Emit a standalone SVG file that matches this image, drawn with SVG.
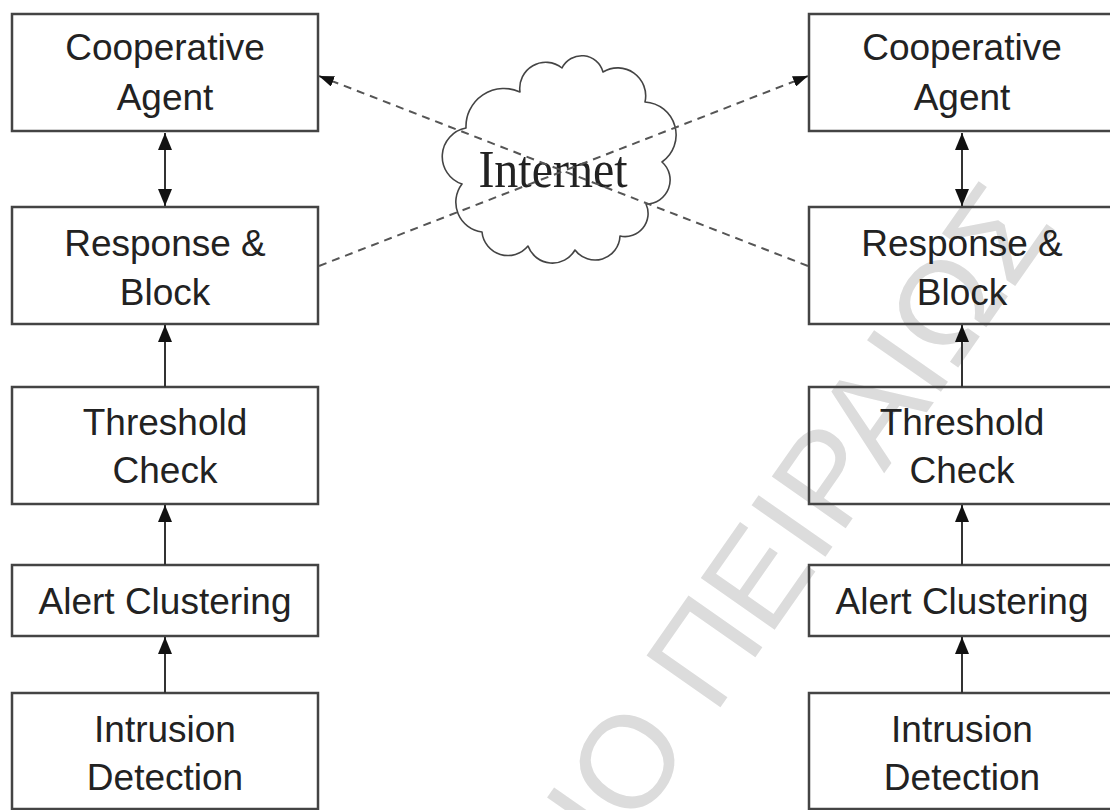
<svg xmlns="http://www.w3.org/2000/svg" width="1110" height="810" viewBox="0 0 1110 810">
  <defs>
    <style>
      .box { fill: none; stroke: #444; stroke-width: 2.5; }
      .lbl { font-family: "Liberation Sans", Arial, sans-serif; font-size: 37px; fill: #222; text-anchor: middle; }
      .cloud { fill: #fff; stroke: #444; stroke-width: 1.6; stroke-linejoin: round; }
      .net { font-family: "Liberation Serif", "Times New Roman", serif; font-size: 48px; fill: #222; text-anchor: middle; }
      .flow { stroke: #333; stroke-width: 2; fill: none; marker-end: url(#head); }
      .both { marker-start: url(#head); }
      .link { stroke: #555; stroke-width: 2; stroke-dasharray: 8 6; fill: none; marker-end: url(#dhead); }
      .mark { font-family: "Liberation Sans", Arial, sans-serif; font-size: 131px; fill: #dcdcdc; }
    </style>
    <marker id="head" viewBox="0 0 17 14" refX="17" refY="7" markerWidth="17" markerHeight="14"
            markerUnits="userSpaceOnUse" orient="auto-start-reverse">
      <path d="M0,0 L17,7 L0,14 Z" fill="#111"/>
    </marker>
    <marker id="dhead" viewBox="0 0 15 11" refX="15" refY="5.5" markerWidth="15" markerHeight="11"
            markerUnits="userSpaceOnUse" orient="auto">
      <path d="M0,0 L15,5.5 L0,11 Z" fill="#111"/>
    </marker>
  </defs>

  <rect width="1110" height="810" fill="#fff"/>

  <!-- faint diagonal watermark -->
  <text class="mark" transform="translate(614,859) rotate(-55)">ΙΟ ΠΕΙΡΑΙΩΣ</text>

  <!-- left stack -->
  <g id="coop-left">
    <rect class="box" x="12" y="14" width="306" height="117"/>
    <text class="lbl" x="165" y="60">Cooperative</text>
    <text class="lbl" x="165" y="110">Agent</text>
  </g>
  <g id="response-left">
    <rect class="box" x="12" y="207" width="306" height="117"/>
    <text class="lbl" x="165" y="256">Response &amp;</text>
    <text class="lbl" x="165" y="305">Block</text>
  </g>
  <g id="threshold-left">
    <rect class="box" x="12" y="387" width="306" height="117"/>
    <text class="lbl" x="165" y="435">Threshold</text>
    <text class="lbl" x="165" y="483">Check</text>
  </g>
  <g id="cluster-left">
    <rect class="box" x="12" y="565" width="306" height="71"/>
    <text class="lbl" x="165" y="614">Alert Clustering</text>
  </g>
  <g id="detect-left">
    <rect class="box" x="12" y="693" width="306" height="116"/>
    <text class="lbl" x="165" y="742">Intrusion</text>
    <text class="lbl" x="165" y="790">Detection</text>
  </g>

  <!-- right stack -->
  <g id="coop-right">
    <rect class="box" x="809" y="14" width="306" height="117"/>
    <text class="lbl" x="962" y="60">Cooperative</text>
    <text class="lbl" x="962" y="110">Agent</text>
  </g>
  <g id="response-right">
    <rect class="box" x="809" y="207" width="306" height="117"/>
    <text class="lbl" x="962" y="256">Response &amp;</text>
    <text class="lbl" x="962" y="305">Block</text>
  </g>
  <g id="threshold-right">
    <rect class="box" x="809" y="387" width="306" height="117"/>
    <text class="lbl" x="962" y="435">Threshold</text>
    <text class="lbl" x="962" y="483">Check</text>
  </g>
  <g id="cluster-right">
    <rect class="box" x="809" y="565" width="306" height="71"/>
    <text class="lbl" x="962" y="614">Alert Clustering</text>
  </g>
  <g id="detect-right">
    <rect class="box" x="809" y="693" width="306" height="116"/>
    <text class="lbl" x="962" y="742">Intrusion</text>
    <text class="lbl" x="962" y="790">Detection</text>
  </g>

  <!-- internet cloud -->
  <g id="internet">
    <path class="cloud" d="M466,128
      A38,38 0 0 1 520,92
      A26,26 0 0 1 562,68
      A22,22 0 0 1 603,72
      A28,28 0 0 1 645,102
      A33,33 0 0 1 662,162
      A24,24 0 0 1 646,204
      A23,23 0 0 1 620,236
      A25,25 0 0 1 575,250
      A26,26 0 0 1 528,246
      A26,26 0 0 1 482,232
      A30,30 0 0 1 462,184
      A29,29 0 0 1 466,128 Z"/>
    <text class="net" transform="translate(553,187) scale(1,1.12)">Internet</text>
  </g>

  <!-- connectors -->
  <g id="connectors">
    <line class="flow both" x1="165" y1="133" x2="165" y2="206"/>
    <line class="flow" x1="165" y1="387" x2="165" y2="325"/>
    <line class="flow" x1="165" y1="565" x2="165" y2="505"/>
    <line class="flow" x1="165" y1="693" x2="165" y2="637"/>

    <line class="flow both" x1="962" y1="133" x2="962" y2="206"/>
    <line class="flow" x1="962" y1="387" x2="962" y2="325"/>
    <line class="flow" x1="962" y1="565" x2="962" y2="505"/>
    <line class="flow" x1="962" y1="693" x2="962" y2="637"/>

    <line class="link" x1="319" y1="266" x2="808" y2="76"/>
    <line class="link" x1="808" y1="266" x2="319" y2="76"/>
  </g>
</svg>
